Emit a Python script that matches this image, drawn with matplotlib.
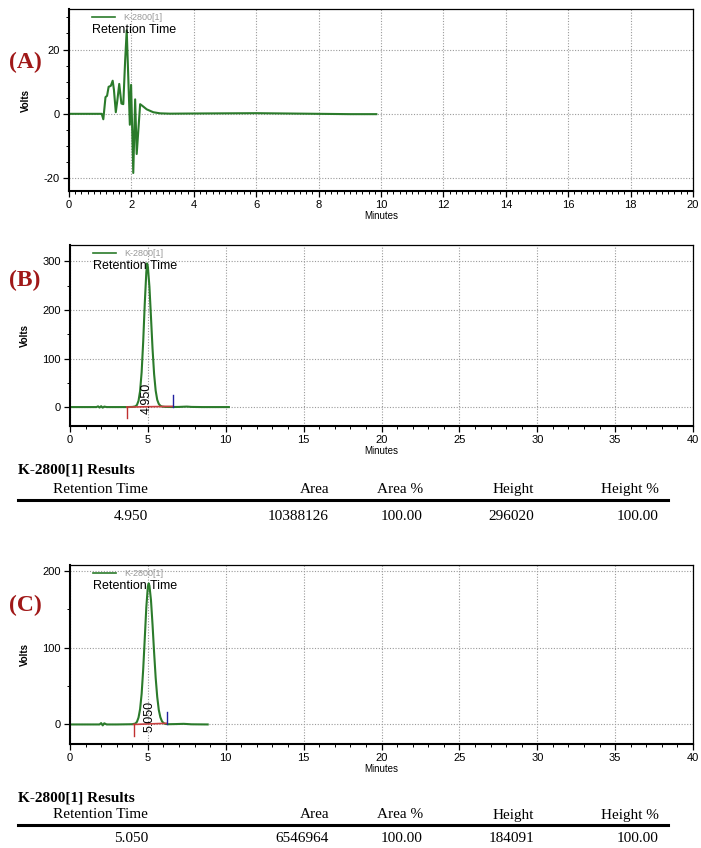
import matplotlib
matplotlib.use('Agg')
import matplotlib.pyplot as plt
from matplotlib.ticker import MultipleLocator

plt.rcParams['axes.unicode_minus'] = False

# ---- data ----
time_a = [0, 0.5, 1.0, 1.05, 1.10, 1.17, 1.22, 1.27, 1.34, 1.40, 1.44, 1.50, 1.55, 1.61,
          1.68, 1.74, 1.80, 1.85, 1.95, 1.99, 2.06, 2.12, 2.17, 2.28, 2.35, 2.49, 2.70,
          2.92, 3.24, 4.0, 5.0, 6.0, 7.0, 8.0, 9.0, 9.85]
volts_a = [0, 0, 0, 0, -1.7, 5.2, 5.6, 8.4, 8.7, 10.3, 7.5, 0.5, 4.2, 9.3,
           3.2, 3.0, 16.7, 26.0, -3.4, 9.0, -18.4, 4.5, -12.5, 3.0, 2.5, 1.4, 0.5,
           0.15, 0.05, 0.1, 0.15, 0.2, 0.1, 0.0, -0.1, -0.1]

time_b = [0, 1.0, 1.7, 1.8, 1.9, 2.0, 2.1, 2.2, 2.35, 3.0, 3.65, 4.0, 4.2, 4.3, 4.4,
          4.5, 4.6, 4.7, 4.8, 4.9, 4.95, 5.0, 5.1, 5.2, 5.3, 5.4, 5.5, 5.6, 5.7, 5.8,
          5.9, 6.1, 6.5, 7.0, 7.5, 7.8, 8.5, 9.5, 10.2]
volts_b = [0, 0, 0, 1.5, -1.0, 1.8, -1.2, 1.0, 0, 0, 0, 0.3, 1.5, 4.5, 13,
           33, 72, 135, 213, 278, 296, 289, 248, 185, 120, 68, 34, 15, 6.5, 2.8,
           1.2, 0.4, 0.1, 0.3, 1.0, 0.3, 0, 0, 0]

time_c = [0, 1.0, 1.9, 2.0, 2.1, 2.2, 2.35, 3.0, 4.0, 4.2, 4.3, 4.4, 4.5, 4.6,
          4.7, 4.8, 4.9, 5.0, 5.05, 5.1, 5.2, 5.3, 5.4, 5.5, 5.6, 5.7, 5.8, 5.9,
          6.0, 6.1, 6.3, 6.8, 7.3, 7.8, 8.84]
volts_c = [0, 0, 0, 1.8, -1.2, 1.5, 0, 0, 0.3, 1.2, 3.5, 9, 20, 40,
           72, 112, 153, 180, 184, 181, 162, 130, 94, 61, 36, 19, 9.5, 4.3,
           1.9, 0.8, 0.3, 0.5, 0.8, 0.2, 0]

# integration marks: start, stop, start-tick depth, stop-tick height
marks_b = (3.65, 6.59, -22, 25)
marks_c = (4.08, 6.21, -15.6, 15.6)
peak_labels = ['4.950', '5.050']

# results tables
table_cols = ['Retention Time', 'Area', 'Area %', 'Height', 'Height %']
results_b = ['4.950', '10388126', '100.00', '296020', '100.00']
results_c = ['5.050', '6546964', '100.00', '184091', '100.00']

GREEN = '#2b7b2b'
SANS = ['Liberation Sans', 'DejaVu Sans']
SERIF = ['Liberation Serif', 'DejaVu Serif']

W, H = 701, 848
fig = plt.figure(figsize=(W / 100, H / 100), dpi=100)


def px_axes(left, top, right, bottom):
    return fig.add_axes([left / W, 1 - bottom / H, (right - left) / W, (bottom - top) / H])


def style(ax, xlim, ylim, xmaj, xmin, ymin, yticks):
    ax.set_xlim(*xlim)
    ax.set_ylim(*ylim)
    ax.xaxis.set_major_locator(MultipleLocator(xmaj))
    ax.xaxis.set_minor_locator(MultipleLocator(xmin))
    ax.set_yticks(yticks)
    ax.yaxis.set_minor_locator(MultipleLocator(ymin))
    ax.grid(True, which='major', linestyle=(0, (1, 1.5)), color='#9a9a9a', linewidth=0.8)
    ax.tick_params(which='major', direction='out', length=4, width=0.9, labelsize=8, pad=2.5)
    ax.tick_params(which='minor', direction='out', length=2.2, width=0.7)
    for lab in ax.get_xticklabels() + ax.get_yticklabels():
        lab.set_family(SANS)
    for side in ['left', 'bottom']:
        ax.spines[side].set_linewidth(1.5)
    for side in ['top', 'right']:
        ax.spines[side].set_linewidth(0.9)
    ax.set_xlabel('Minutes', fontsize=7, family=SANS, labelpad=1)
    ax.set_ylabel('Volts', fontsize=7, family=SANS, fontweight='bold', labelpad=9)
    # legend-like header
    ax.plot([0.037, 0.074], [0.955, 0.955], transform=ax.transAxes, color=GREEN, lw=1.2)
    ax.text(0.087, 0.955, 'K-2800[1]', transform=ax.transAxes, fontsize=6.5,
            color='#999999', family=SANS, va='center')
    ax.text(0.037, 0.885, 'Retention Time', transform=ax.transAxes, fontsize=9,
            color='black', family=SANS, va='center')


def marks(ax, m, label, lx):
    t0, t1, d0, d1 = m
    ax.plot([t0, t1], [0, 1.5], color='#c84040', lw=1.2)
    ax.plot([t0, t0], [0, d0], color='#c03030', lw=1.0)
    ax.plot([t1, t1], [0, d1], color='#2020a0', lw=1.0)
    ax.text(lx, d0 * 0.65, label, rotation=90, fontsize=9, family=SANS,
            ha='center', va='bottom')


def table(y_head, y_cols, y_line, y_vals, values):
    fig.text(18 / W, 1 - y_head / H, 'K-2800[1] Results', fontsize=11, fontweight='bold',
             family=SERIF, va='center')
    rights = [148, 329, 423, 534, 659]
    for r, c, v in zip(rights, table_cols, values):
        fig.text(r / W, 1 - y_cols / H, c, fontsize=11, family=SERIF, ha='right', va='center')
        fig.text(r / W, 1 - y_vals / H, v, fontsize=11, family=SERIF, ha='right', va='center')
    fig.add_artist(plt.Line2D([18 / W, 668 / W], [1 - y_line / H, 1 - y_line / H],
                              color='black', lw=2.2))


# (A)
ax_a = px_axes(69, 9, 693, 191)
ax_a.plot(time_a, volts_a, color=GREEN, lw=1.5)
style(ax_a, (0, 20), (-24, 32.6), 2, 0.2, 5, [-20, 0, 20])

# (B)
ax_b = px_axes(70, 245, 693, 426)
ax_b.plot(time_b, volts_b, color=GREEN, lw=1.5)
marks(ax_b, marks_b, peak_labels[0], 4.95)
style(ax_b, (0, 40), (-39, 334), 5, 1, 50, [0, 100, 200, 300])

# (C)
ax_c = px_axes(70, 565, 693, 744)
ax_c.plot(time_c, volts_c, color=GREEN, lw=1.5)
marks(ax_c, marks_c, peak_labels[1], 5.1)
style(ax_c, (0, 40), (-25.5, 208), 5, 1, 50, [0, 100, 200])

for lab, y in [('(A)', 62), ('(B)', 280), ('(C)', 605)]:
    fig.text(9 / W, 1 - y / H, lab, fontsize=17, fontweight='bold', family=SERIF,
             color='#a01818', va='center')

table(470, 489, 500, 517, results_b)
table(798, 815, 825, 838, results_c)

fig.savefig('out.png', dpi=100)
